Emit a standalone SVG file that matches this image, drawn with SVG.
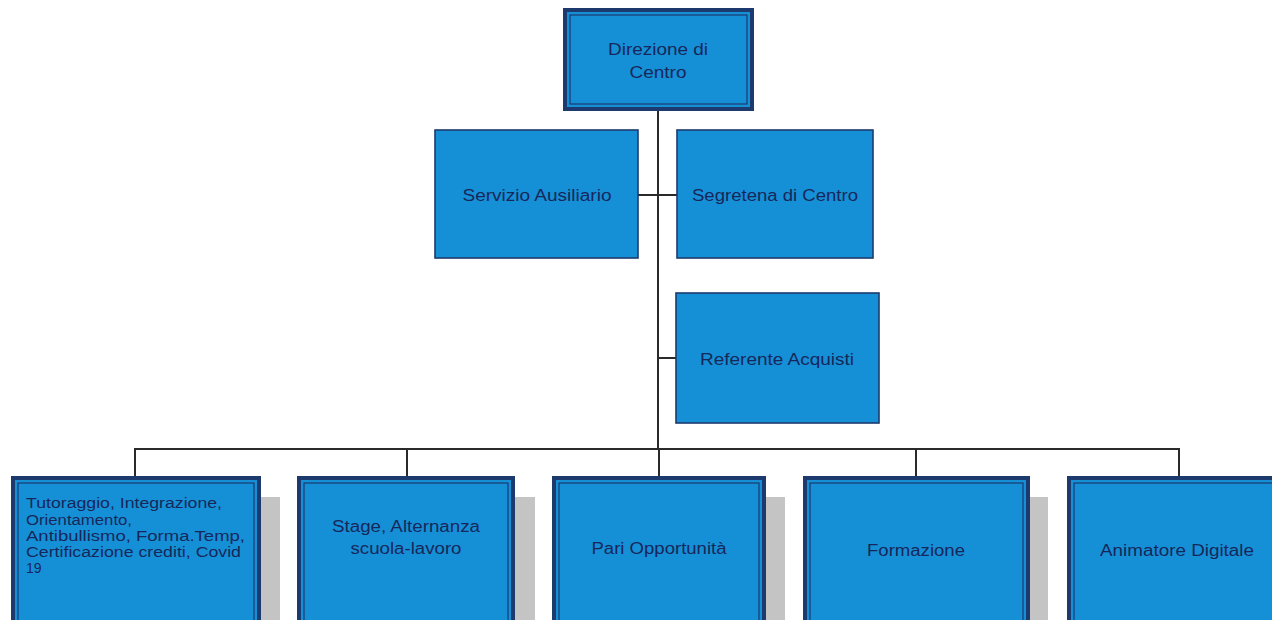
<svg xmlns="http://www.w3.org/2000/svg" width="1272" height="620" viewBox="0 0 1272 620">
<style>
.box{fill:#1590d7;stroke:#1c3a6e;stroke-width:1.6}
.dbl{fill:#1590d7;stroke:#1c3a6e;stroke-width:4}
.inner{fill:none;stroke:#1c3a6e;stroke-width:1.2}
.shadow{fill:#c4c4c4}
.t{font-family:"Liberation Sans",Arial,sans-serif;font-size:16px;fill:#17275a;text-anchor:middle}
.ts{font-family:"Liberation Sans",Arial,sans-serif;font-size:14px;fill:#17275a}
.c{fill:none;stroke:#2a2a2a;stroke-width:2}
</style>
<rect width="1272" height="620" fill="#ffffff"/>
<g id="connectors">
<line class="c" x1="658" y1="110" x2="658" y2="449" stroke-width="3"/>
<line class="c" x1="638" y1="195" x2="677" y2="195"/>
<line class="c" x1="658" y1="358" x2="676" y2="358"/>
<polyline class="c" points="135,478 135,449 1179,449 1179,478" stroke="#444"/>
<line class="c" x1="407" y1="449" x2="407" y2="478" stroke="#444"/>
<line class="c" x1="659" y1="449" x2="659" y2="478" stroke="#444"/>
<line class="c" x1="916" y1="449" x2="916" y2="478" stroke="#444"/>
</g>
<g id="direzione">
<rect class="dbl" x="565" y="10" width="187" height="99" stroke-width="5"/>
<rect class="inner" x="570" y="15" width="177" height="89"/>
<text class="t" x="658" y="55" textLength="100" lengthAdjust="spacingAndGlyphs">Direzione di</text>
<text class="t" x="658" y="78" textLength="57" lengthAdjust="spacingAndGlyphs">Centro</text>
</g>
<g id="servizio">
<rect class="box" x="435" y="130" width="203" height="128"/>
<text class="t" x="537" y="201" textLength="149" lengthAdjust="spacingAndGlyphs">Servizio Ausiliario</text>
</g>
<g id="segreteria">
<rect class="box" x="677" y="130" width="196" height="128"/>
<text class="t" x="775" y="201" textLength="166" lengthAdjust="spacingAndGlyphs">Segretena di Centro</text>
</g>
<g id="referente">
<rect class="box" x="676" y="293" width="203" height="130"/>
<text class="t" x="777" y="365" textLength="154" lengthAdjust="spacingAndGlyphs">Referente Acquisti</text>
</g>
<g id="tutoraggio">
<rect class="shadow" x="33" y="497" width="247" height="140"/>
<rect class="dbl" x="13" y="478" width="246" height="150"/>
<rect class="inner" x="18" y="483" width="236" height="140"/>
<text class="ts" x="26" y="508" textLength="196" lengthAdjust="spacingAndGlyphs">Tutoraggio, Integrazione,</text>
<text class="ts" x="26" y="525" textLength="106" lengthAdjust="spacingAndGlyphs">Orientamento,</text>
<text class="ts" x="26" y="541" textLength="219" lengthAdjust="spacingAndGlyphs">Antibullismo, Forma.Temp,</text>
<text class="ts" x="26" y="557" textLength="215" lengthAdjust="spacingAndGlyphs">Certificazione crediti, Covid</text>
<text class="ts" x="26" y="573">19</text>
</g>
<g id="stage">
<rect class="shadow" x="320" y="497" width="215" height="140"/>
<rect class="dbl" x="299" y="478" width="214" height="150"/>
<rect class="inner" x="304" y="483" width="204" height="140"/>
<text class="t" x="406" y="532" textLength="148" lengthAdjust="spacingAndGlyphs">Stage, Alternanza</text>
<text class="t" x="406" y="554" textLength="111" lengthAdjust="spacingAndGlyphs">scuola-lavoro</text>
</g>
<g id="pari">
<rect class="shadow" x="574" y="497" width="211" height="140"/>
<rect class="dbl" x="554" y="478" width="210" height="150"/>
<rect class="inner" x="559" y="483" width="200" height="140"/>
<text class="t" x="659" y="554" textLength="135" lengthAdjust="spacingAndGlyphs">Pari Opportunità</text>
</g>
<g id="formazione">
<rect class="shadow" x="825" y="497" width="223" height="140"/>
<rect class="dbl" x="805" y="478" width="223" height="150"/>
<rect class="inner" x="810" y="483" width="213" height="140"/>
<text class="t" x="916" y="556" textLength="98" lengthAdjust="spacingAndGlyphs">Formazione</text>
</g>
<g id="animatore">
<rect class="dbl" x="1069" y="478" width="230" height="150"/>
<rect class="inner" x="1074" y="483" width="220" height="140"/>
<text class="t" x="1177" y="556" textLength="154" lengthAdjust="spacingAndGlyphs">Animatore Digitale</text>
</g>
</svg>
